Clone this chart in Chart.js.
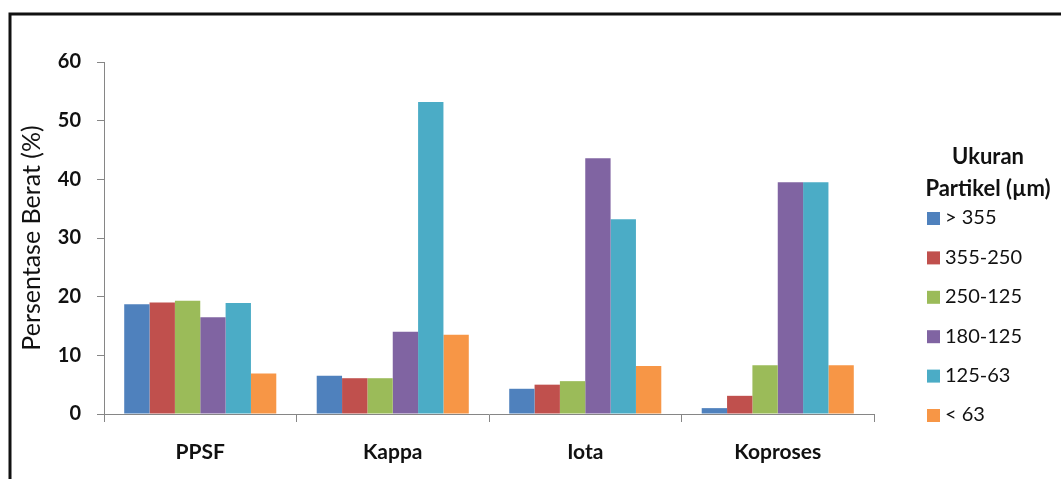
<!DOCTYPE html>
<html>
<head>
<meta charset="utf-8">
<script src="https://cdn.jsdelivr.net/npm/chart.js@4/dist/chart.umd.min.js"></script>
<style>
  html, body { margin: 0; padding: 0; background: #fff; }
  #wrap { position: relative; width: 1061px; height: 479px; }
</style>
</head>
<body>
<div id="wrap"><canvas id="chart" width="1061" height="479"></canvas></div>
<script>
// ========== DATA ==========
const categories = ["PPSF", "Kappa", "Iota", "Koproses"];
const sizeLabels = ["> 355", "355-250", "250-125", "180-125", "125-63", "< 63"];
const over355 = [18.7, 6.5, 4.3, 1.0];
const from355to250 = [19.0, 6.1, 5.0, 3.1];
const from250to125 = [19.3, 6.1, 5.6, 8.3];
const from180to125 = [16.5, 14.0, 43.6, 39.5];
const from125to63 = [18.9, 53.2, 33.2, 39.5];
const under63 = [6.9, 13.5, 8.2, 8.3];
const yTicks = [0, 10, 20, 30, 40, 50, 60];

const seriesValues = [over355, from355to250, from250to125, from180to125, from125to63, under63];
const colors = ["#4F81BD", "#C0504D", "#9BBB59", "#8064A2", "#4BACC6", "#F79646"];
const FONT = "Lato, 'Noto Sans', sans-serif";

// ========== FRAME + LEGEND ==========
const framePlugin = {
  id: "frame",
  beforeDraw(chart) {
    const ctx = chart.ctx;
    ctx.save();
    ctx.fillStyle = "#fff";
    ctx.fillRect(0, 0, chart.width, chart.height);
    ctx.strokeStyle = "#111";
    ctx.lineWidth = 3;
    ctx.beginPath();
    ctx.moveTo(10, chart.height);
    ctx.lineTo(10, 14);
    ctx.lineTo(chart.width, 14);
    ctx.stroke();
    ctx.restore();
  },
};

const legendPlugin = {
  id: "sideLegend",
  afterDraw(chart) {
    const ctx = chart.ctx;
    ctx.save();
    ctx.fillStyle = "#111";
    ctx.textBaseline = "middle";
    ctx.textAlign = "center";
    ctx.font = "bold 22px " + FONT;
    ctx.fillText("Ukuran", 988, 157);
    ctx.fillText("Partikel (\u00b5m)", 988, 189);
    ctx.textAlign = "left";
    ctx.font = "20px " + FONT;
    chart.data.datasets.forEach((ds, i) => {
      const y = 218 + i * 39.4;
      ctx.fillStyle = ds.backgroundColor;
      ctx.fillRect(927, y - 6, 13, 13);
      ctx.fillStyle = "#111";
      ctx.fillText(ds.label, 945, y);
    });
    ctx.restore();
  },
};

// ========== CHART ==========
new Chart(document.getElementById("chart"), {
  type: "bar",
  data: {
    labels: categories,
    datasets: sizeLabels.map((label, i) => ({
      label,
      data: seriesValues[i],
      backgroundColor: colors[i],
      borderWidth: 0,
    })),
  },
  options: {
    responsive: false,
    animation: false,
    layout: { padding: { left: 10, right: 187, top: 62, bottom: 0 } },
    plugins: { legend: { display: false }, tooltip: { enabled: false } },
    datasets: { bar: { categoryPercentage: 0.79, barPercentage: 1 } },
    scales: {
      x: {
        afterFit(axis) { axis.height = 65; },
        grid: { offset: true, drawOnChartArea: false, color: "#868686", tickLength: 8 },
        border: { color: "#868686", width: 1 },
        ticks: { color: "#111", font: { family: FONT, size: 21, weight: "bold" }, padding: 18 },
      },
      y: {
        min: 0,
        max: 60,
        afterBuildTicks(axis) {
          axis.ticks = yTicks.map((v) => ({ value: v }));
        },
        afterFit(axis) { axis.width = 94; },
        grid: { drawOnChartArea: false, color: "#868686", tickLength: 7 },
        border: { color: "#868686", width: 1 },
        ticks: { color: "#111", font: { family: FONT, size: 20, weight: "bold" }, padding: 16 },
        title: {
          display: true,
          text: "Persentase Berat (%)",
          color: "#111",
          font: { family: FONT, size: 25 },
          padding: { top: 7, bottom: 0 },
        },
      },
    },
  },
  plugins: [framePlugin, legendPlugin],
});
</script>
</body>
</html>
